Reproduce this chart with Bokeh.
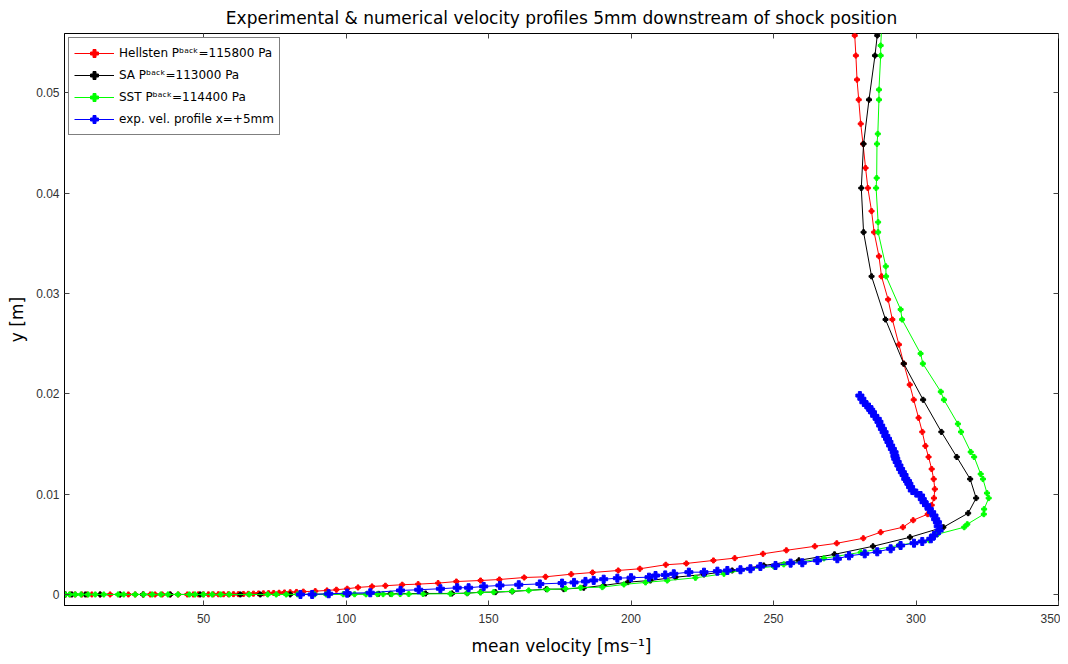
from bokeh.plotting import figure
from bokeh.models import (Range1d, FixedTicker, LinearAxis, NumeralTickFormatter, Legend,
                          LegendItem, CustomJSTickFormatter)
from bokeh.embed import file_html
from bokeh.resources import INLINE

# ---------------- data ----------------
hell_v = [1.5, 3.2, 4.9, 7.3, 9.1, 10.8, 13.7, 17.2, 20.7, 23.6, 26.0, 28.8, 31.3, 33.0, 35.5, 38.3,
          41.1, 44.3, 46.4, 48.2, 49.9, 51.7, 53.4, 55.2, 57.0, 58.7, 60.5, 62.2, 64.0, 65.7, 67.5,
          69.3, 71.0, 72.8, 74.6, 76.5, 78.4, 80.4, 82.6, 85.0, 89.2, 93.3, 96.6, 100.4, 104.2,
          109.1, 113.8, 119.7, 125.3, 132.3, 138.7, 147.2, 153.8, 162.5, 170.0, 179.0, 186.5,
          195.5, 203.1, 212.2, 219.4, 228.9, 236.4, 246.3, 254.5, 264.5, 272.2, 281.5, 287.6,
          295.4, 299.0, 304.1, 305.5, 306.3, 306.6, 306.2, 305.5, 304.4, 303.3, 302.2, 300.9,
          299.2, 297.8, 295.7, 294.0, 291.7, 290.2, 287.9, 287.0, 285.3, 284.4, 283.1, 282.3,
          281.4, 280.6, 279.9, 279.3, 278.9, 278.5, 278.2]
hell_y = [0, 0, 0, 0, 0, 0, 0, 0, 0, 0, 0, 0, 0, 0, 0, 0,
          0, 0, 0, 0.00001, 0.00001, 0.00001, 0.00001, 0.00002, 0.00002, 0.00002, 0.00003, 0.00003,
          0.00005, 0.00006, 0.00008, 0.0001, 0.00011, 0.00013, 0.00015, 0.00017, 0.0002, 0.00022,
          0.00025, 0.00028, 0.00033, 0.0004, 0.00047, 0.00057, 0.0007, 0.0008, 0.00087, 0.00097,
          0.00103, 0.00113, 0.00129, 0.00139, 0.00149, 0.00169, 0.00176, 0.00202, 0.00219,
          0.00239, 0.00256, 0.00296, 0.00309, 0.00339, 0.00362, 0.00405, 0.0044, 0.0048, 0.0051,
          0.0056, 0.0062, 0.0067, 0.0074, 0.008, 0.0089, 0.0096, 0.0105, 0.0115, 0.0125, 0.0137,
          0.0148, 0.0162, 0.0176, 0.0194, 0.0209, 0.023, 0.0249, 0.0274, 0.0294, 0.0317, 0.0337,
          0.0361, 0.0382, 0.0405, 0.0425, 0.0449, 0.0469, 0.0493, 0.0513, 0.0537, 0.0557, 0.0581]

sa_v = [1.5, 3.8, 8.5, 13.7, 20.7, 28.8, 38.3, 48.8, 62.9, 69.9, 80.4, 88.1, 93.9, 101.0, 111.4,
        115.6, 127.9, 137.2, 142.5, 147.2, 152.4, 158.3, 170.3, 176.4, 183.4, 190.4, 198.9, 206.8,
        215.6, 225.6, 235.5, 246.6, 258.9, 271.4, 284.9, 297.9, 309.6, 318.3, 321.1, 319.0, 314.3,
        308.9, 302.5, 295.7, 289.3, 284.4, 281.6, 280.8, 281.6, 283.5, 285.6, 286.4, 287.5]
sa_y = [0, 0, 0, 0, 0, 0, 0, 0, 0, 0, 0, 0.00002, 0.00003, 0.00004, 0.00006,
        0.00007, 0.0001, 0.0001, 0.00013, 0.00023, 0.00023, 0.0003, 0.00053, 0.00053, 0.00067,
        0.0009, 0.00123, 0.00139, 0.00172, 0.00199, 0.00239, 0.00289, 0.0034, 0.004, 0.0048,
        0.0057, 0.0067, 0.0081, 0.0096, 0.0115, 0.0137, 0.0162, 0.0194, 0.023, 0.0274, 0.0317,
        0.0361, 0.0405, 0.0449, 0.0493, 0.0537, 0.0557, 0.0581]

sst_v = [1.5, 3.0, 5.0, 7.0, 9.5, 12.0, 15.0, 20.0, 22.0, 26.0, 29.0, 32.0, 35.0, 37.5, 41.0, 45.0,
         47.0, 50.0, 53.0, 56.0, 59.0, 66.0, 72.5, 75.5, 79.0, 83.0, 89.0, 93.0, 99.0, 103.0, 107.0,
         111.0, 113.0, 116.0, 119.0, 122.0, 127.0, 136.6, 142.5, 147.2, 151.8, 158.3, 164.1, 170.6,
         177.0, 182.3, 189.9, 197.5, 205.1, 212.7, 222.6, 232.6, 241.9, 250.1, 253.6, 267.7, 280.6,
         294.0, 304.6, 307.5, 316.9, 318.0, 323.8, 323.9, 325.5, 324.9, 323.5, 322.7, 320.4, 319.2,
         315.8, 314.7, 309.8, 308.7, 302.4, 301.6, 295.1, 294.6, 289.5, 289.4, 286.7, 286.7, 286.0,
         286.2, 286.3, 286.6, 287.0, 287.0, 287.6, 287.6, 288.3]
sst_y = [0, 0, 0, 0, 0, 0, 0, 0, 0, 0, 0, 0, 0, 0, 0, 0,
         0, 0, 0, 0, 0, 0, 0, 0, 0, 0.00001, 0.00001, 0.00001, 0.00002, 0.00002, 0.00002,
         0.00003, 0.00003, 0.00003, 0.00004, 0.00004, 0.00005, 0.00007, 0.00013, 0.0002, 0.00023,
         0.00033, 0.0004, 0.0005, 0.00057, 0.00067, 0.00073, 0.001, 0.0012, 0.00139, 0.00166,
         0.00206, 0.00256, 0.00279, 0.003, 0.0036, 0.0042, 0.0049, 0.0054, 0.006, 0.0067, 0.007,
         0.008, 0.0085, 0.0096, 0.0101, 0.0115, 0.012, 0.0137, 0.0142, 0.0162, 0.017, 0.0194,
         0.0202, 0.023, 0.024, 0.0274, 0.0284, 0.0317, 0.0327, 0.0361, 0.0371, 0.0405, 0.0415,
         0.0449, 0.0459, 0.0493, 0.0503, 0.0537, 0.0547, 0.0581]

exp_v = [84.0, 88.1, 93.9, 100.4, 108.5, 119.1, 125.5, 133.1, 139.0, 143.0, 148.3, 154.0, 160.6,
         168.0, 175.8, 180.0, 184.0, 186.9, 190.4, 195.2, 200.0, 206.3, 208.6, 212.0, 215.0, 220.3,
         225.6, 230.3, 233.8, 238.4, 241.9, 245.4, 250.7, 256.0, 260.1, 265.4, 272.4, 276.5, 282.0,
         286.4, 291.1, 294.6, 299.3, 302.2, 305.2, 306.3, 308.1, 307.8, 307.5, 306.9, 306.3, 305.5,
         304.6, 303.7, 302.8, 302.2, 301.6, 300.1, 298.7, 298.1, 297.5, 297.0, 296.4, 295.8, 295.2,
         294.6, 294.0, 293.4, 292.9, 292.6, 292.3, 291.7, 291.1, 290.5, 290.0, 289.4, 288.8, 288.2,
         287.6, 287.0, 286.4, 285.5, 284.7, 284.1, 283.5, 282.6, 281.7, 281.0, 280.3]
exp_y = [0, 0, 0.00007, 0.00013, 0.00017, 0.0004, 0.00047, 0.00057, 0.00067, 0.00067, 0.0008,
         0.0009, 0.00097, 0.00105, 0.00113, 0.0012, 0.0013, 0.0014, 0.00152, 0.00162, 0.00167,
         0.00172, 0.00189, 0.00195, 0.00206, 0.00222, 0.00222, 0.00232, 0.00239, 0.00246, 0.00256,
         0.00279, 0.00289, 0.00312, 0.00316, 0.00339, 0.00356, 0.00385, 0.00405, 0.00425, 0.00455,
         0.00488, 0.00511, 0.00528, 0.00555, 0.00588, 0.00637, 0.0068, 0.0072, 0.0075, 0.00787,
         0.0082, 0.00854, 0.0089, 0.00919, 0.0095, 0.00986, 0.0101, 0.01036, 0.0107, 0.01103,
         0.0113, 0.01152, 0.0119, 0.01218, 0.0125, 0.01285, 0.0132, 0.01352, 0.0138, 0.01417,
         0.0145, 0.01484, 0.0152, 0.01551, 0.0158, 0.01617, 0.0165, 0.01683, 0.0172, 0.0175,
         0.0178, 0.01816, 0.0184, 0.01866, 0.0189, 0.01915, 0.0195, 0.01982]

labels = ["Hellsten P\u1d47\u1d43\u1d9c\u1d4f=115800 Pa",
          "SA P\u1d47\u1d43\u1d9c\u1d4f=113000 Pa",
          "SST P\u1d47\u1d43\u1d9c\u1d4f=114400 Pa",
          "exp. vel. profile x=+5mm"]
colors = ["#ff0000", "#000000", "#00ff00", "#0000ff"]
x_ticks = [50, 100, 150, 200, 250, 300, 350]
y_ticks = [0, 0.01, 0.02, 0.03, 0.04, 0.05]

FONT = "DejaVu Sans"
TICK_FONT = "Liberation Sans"

p = figure(width=1052, height=648, output_backend="svg", toolbar_location=None,
           x_range=Range1d(1.2, 350), y_range=Range1d(-0.0011, 0.0559),
           frame_width=994, frame_height=572,
           min_border_left=64, min_border_right=2, min_border_top=33, min_border_bottom=51,
           title="Experimental & numerical velocity profiles 5mm downstream of shock position")
p.title.text_font = FONT
p.title.text_font_size = "17px"
p.title.text_font_style = "normal"
p.title.text_color = "black"
p.title.align = "center"
p.title.standoff = 11
p.grid.visible = False
p.outline_line_color = "black"
p.outline_line_width = 1
p.background_fill_color = "white"
p.border_fill_color = "white"

p.xaxis.ticker = FixedTicker(ticks=x_ticks)
p.yaxis.ticker = FixedTicker(ticks=y_ticks)
p.yaxis.formatter = NumeralTickFormatter(format="0.[00]")
for ax in (p.xaxis[0], p.yaxis[0]):
    ax.major_tick_in = 5
    ax.major_tick_out = 0
    ax.minor_tick_line_color = None
    ax.major_label_text_font = TICK_FONT
    ax.major_label_text_font_size = "12px"
    ax.major_label_text_color = "#333333"
    ax.axis_label_text_font = FONT
    ax.axis_label_text_font_size = "17px"
    ax.axis_label_text_font_style = "normal"
    ax.axis_label_text_color = "black"
    ax.axis_line_color = "black"
    ax.major_tick_line_color = "#444444"
p.xaxis.axis_label = "mean velocity [ms\u207b\u00b9]"
p.yaxis.axis_label = "y [m]"
p.xaxis.major_label_standoff = 8
p.xaxis.axis_label_standoff = 10
p.yaxis.major_label_standoff = 5
p.yaxis.axis_label_standoff = 6

blank = CustomJSTickFormatter(code="return ''")
top = LinearAxis(ticker=FixedTicker(ticks=x_ticks), formatter=blank,
                 major_tick_in=5, major_tick_out=0, minor_tick_line_color=None,
                 axis_line_color=None, major_label_standoff=0, major_tick_line_color="#444444")
right = LinearAxis(ticker=FixedTicker(ticks=y_ticks), formatter=blank,
                   major_tick_in=5, major_tick_out=0, minor_tick_line_color=None,
                   axis_line_color=None, major_label_standoff=0, major_tick_line_color="#444444")
p.add_layout(top, "above")
p.add_layout(right, "right")

series = [(hell_v, hell_y), (sa_v, sa_y), (sst_v, sst_y), (exp_v, exp_y)]
items = []
for (vx, vy), c, lab in zip(series, colors, labels):
    sz = 8 if c == "#0000ff" else 5
    r1 = p.line(vx, vy, line_color=c, line_width=1)
    r2 = p.scatter(vx, vy, marker="plus", size=sz, color=c)
    items.append(LegendItem(label=lab, renderers=[r1, r2]))

leg = Legend(items=items, location="top_left", margin=4, padding=5, spacing=2,
             glyph_width=40, glyph_height=20, label_height=20, label_standoff=5,
             label_text_font=FONT, label_text_font_size="12px", label_text_color="black",
             border_line_color="black", border_line_width=1, background_fill_alpha=1)
p.add_layout(leg, "center")

open("out.html", "w").write(file_html(p, INLINE))
